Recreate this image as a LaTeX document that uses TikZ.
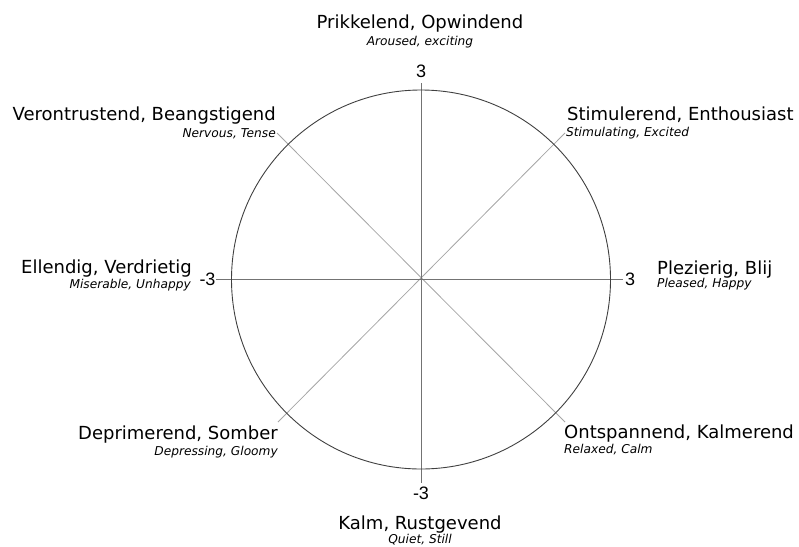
\documentclass[tikz,border=0pt]{standalone}
\usepackage{fontspec}
\setmainfont{DejaVu Sans}
\newfontfamily\numfont{Liberation Sans}
\tikzset{
  mainlbl/.style={inner sep=0pt, font=\fontsize{18}{20}\selectfont},
  sublbl/.style={inner sep=0pt, font=\fontsize{12.2}{14}\selectfont\itshape},
  numlbl/.style={inner sep=0pt, font=\fontsize{18}{20}\selectfont\numfont},
  axisline/.style={draw=black!55, line width=0.9pt},
  diagline/.style={draw=black!35, line width=0.8pt},
}
\begin{document}
\begin{tikzpicture}[x=1pt,y=-1pt]
\useasboundingbox (0,0) rectangle (799,546);
\coordinate (c) at (421,279.5);
% axes and circle
\coordinate (at) at (421,83);
\coordinate (ab) at (421,483);
\coordinate (al) at (216,279.5);
\coordinate (ar) at (623,279.5);
\coordinate (dtl) at (277,133);
\coordinate (dtr) at (565,133);
\coordinate (dbl) at (278,422);
\coordinate (dbr) at (565,422);
\draw[diagline] (dtl) -- (dbr);
\draw[diagline] (dtr) -- (dbl);
\draw[axisline] (al) -- (ar);
\draw[axisline] (at) -- (ab);
\draw[black!75, line width=0.9pt] (c) circle[radius=189.5pt];
% scale values
\node[numlbl] (ntop) at (421,71) {3};
\node[numlbl] (nbot) at (421,493.5) {-3};
\node[numlbl] (nleft) at (207.5,279) {-3};
\node[numlbl] (nright) at (630,279) {3};
% labels
\node[mainlbl, anchor=base] (top) at (420,28) {Prikkelend, Opwindend};
\node[sublbl, anchor=base] (topS) at (420,45) {Aroused, exciting};
\node[mainlbl, anchor=base east] (tl) at (276,120) {Verontrustend, Beangstigend};
\node[sublbl, anchor=base east] (tlS) at (276,137) {Nervous, Tense};
\node[mainlbl, anchor=base west] (tr) at (567,120) {Stimulerend, Enthousiast};
\node[sublbl, anchor=base west] (trS) at (566,136) {Stimulating, Excited};
\node[mainlbl, anchor=base east] (lft) at (192,273) {Ellendig, Verdrietig};
\node[sublbl, anchor=base east] (lftS) at (191,288) {Miserable, Unhappy};
\node[mainlbl, anchor=base west] (rgt) at (657,274) {Plezierig, Blij};
\node[sublbl, anchor=base west] (rgtS) at (657,287) {Pleased, Happy};
\node[mainlbl, anchor=base east] (bl) at (278,439) {Deprimerend, Somber};
\node[sublbl, anchor=base east] (blS) at (278,455) {Depressing, Gloomy};
\node[mainlbl, anchor=base west] (br) at (564,438) {Ontspannend, Kalmerend};
\node[sublbl, anchor=base west] (brS) at (564,453) {Relaxed, Calm};
\node[mainlbl, anchor=base] (bot) at (420,529) {Kalm, Rustgevend};
\node[sublbl, anchor=base] (botS) at (420,543) {Quiet, Still};
\end{tikzpicture}
\end{document}
